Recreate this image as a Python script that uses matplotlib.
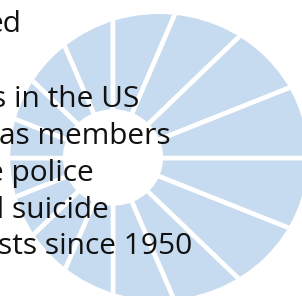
import matplotlib
matplotlib.use("Agg")
import matplotlib.pyplot as plt
from matplotlib.patches import Circle

W, H = 302, 296
sx = 1.04  # picture is a bit wider than tall

# 16 equal slices
segments = [1, 1, 1, 1, 1, 1, 1, 1, 1, 1, 1, 1, 1, 1, 1, 1]
blue = '#c6dbef'

# text fragments (left part is cut off in the picture) with right end x and baseline y in px
lines = ["ed", "s in the US", "as members", "e police", "d suicide", "sts since 1950"]
line_right = [21.5, 139.5, 171, 93.5, 109, 192]
line_base = [31.5, 106.5, 143.5, 180.5, 217.5, 254.5]

fig = plt.figure(figsize=(W / 100, H / 100), dpi=100)
ax = fig.add_axes([0, 0, 1, 1])

wedges, _ = ax.pie(segments, center=(113 / sx, 158), radius=260, startangle=0,
                   colors=[blue] * len(segments),
                   wedgeprops=dict(edgecolor='white', linewidth=3.3))

# outer edge of the blue disc
bound = Circle((159 / sx, 157), 143, transform=ax.transData)
for w in wedges:
    w.set_clip_on(True)
    w.set_clip_path(bound)

ax.add_patch(Circle((113 / sx, 157.5), 47.5, color='white', zorder=3))

ax.set_aspect('auto')
ax.set_xlim(0, W / sx)
ax.set_ylim(H, 0)
ax.axis('off')

for s, xr, yb in zip(lines, line_right, line_base):
    fig.text(xr / W, 1 - yb / H, s, ha='right', va='baseline',
             fontsize=21.5, family='Open Sans', color='#111111', zorder=5)

fig.savefig('out.png', dpi=100)
